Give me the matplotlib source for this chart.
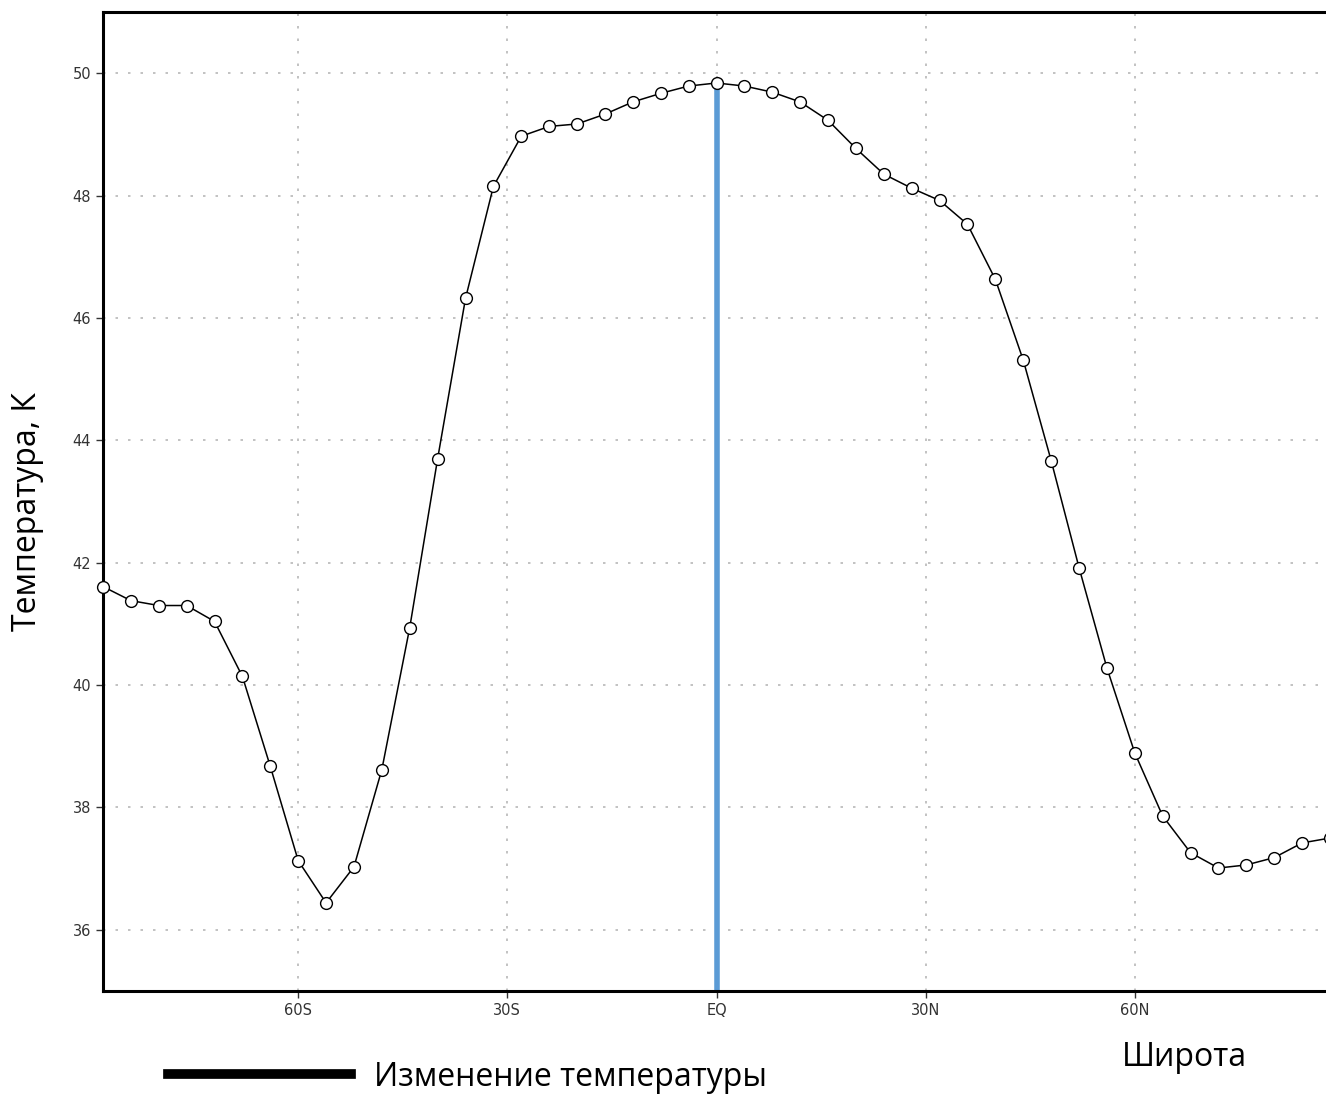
import matplotlib.pyplot as plt
from matplotlib.lines import Line2D

# latitude (degrees, S negative) and temperature values
lat = list(range(-88, 89, 4))
temp = [41.61, 41.38, 41.30, 41.30, 41.04, 40.14, 38.67, 37.13, 36.44, 37.03,
        38.62, 40.94, 43.70, 46.32, 48.15, 48.97, 49.13, 49.17, 49.33, 49.53,
        49.67, 49.79, 49.84, 49.79, 49.69, 49.53, 49.23, 48.77, 48.35, 48.12,
        47.92, 47.53, 46.63, 45.31, 43.67, 41.92, 40.28, 38.89, 37.86, 37.26,
        37.01, 37.06, 37.18, 37.42, 37.50]
xticks = [-60, -30, 0, 30, 60]
xticklabels = ["60S", "30S", "EQ", "30N", "60N"]
yticks = [36, 38, 40, 42, 44, 46, 48, 50]

fig = plt.figure(figsize=(13.26, 10.94), dpi=100)
ax = fig.add_axes([103 / 1326, 1 - 991 / 1094, 1227 / 1326, 979 / 1094])

ax.plot(lat, temp, color="black", lw=1.1, marker="o", markersize=8.5,
        markerfacecolor="white", markeredgecolor="black", markeredgewidth=1.0,
        zorder=3, clip_on=False)
eq = temp[lat.index(0)]
ax.vlines(0, 35, eq, color="#5b9bd5", lw=4, zorder=2)

ax.set_xlim(-88, 88)
ax.set_ylim(35, 51)
ax.set_xticks(xticks)
ax.set_xticklabels(xticklabels)
ax.set_yticks(yticks)
ax.tick_params(direction="out", length=5, width=1, labelsize=10.5, colors="#333333")
ax.grid(True, color="#b8b8b8", linestyle=(0, (1.5, 6)), lw=1.2)
for s in ["left", "bottom", "top"]:
    ax.spines[s].set_linewidth(2.2)
ax.spines["right"].set_visible(False)

fig.text(28 / 1326, 1 - 512 / 1094, "Температура, К", rotation=90,
         ha="center", va="center", fontsize=23, family="Open Sans")
fig.text(1184 / 1326, 1 - 1058 / 1094, "Широта", ha="center", va="center",
         fontsize=23, family="Open Sans")

handle = Line2D([], [], color="black", lw=7)
fig.legend([handle], ["Изменение температуры"], loc="center left",
           bbox_to_anchor=(139 / 1326, 1 - 1077 / 1094), frameon=False,
           handlelength=5.75, handletextpad=0.7,
           prop={"family": "Open Sans", "size": 23})

fig.savefig("out.png", dpi=100)
